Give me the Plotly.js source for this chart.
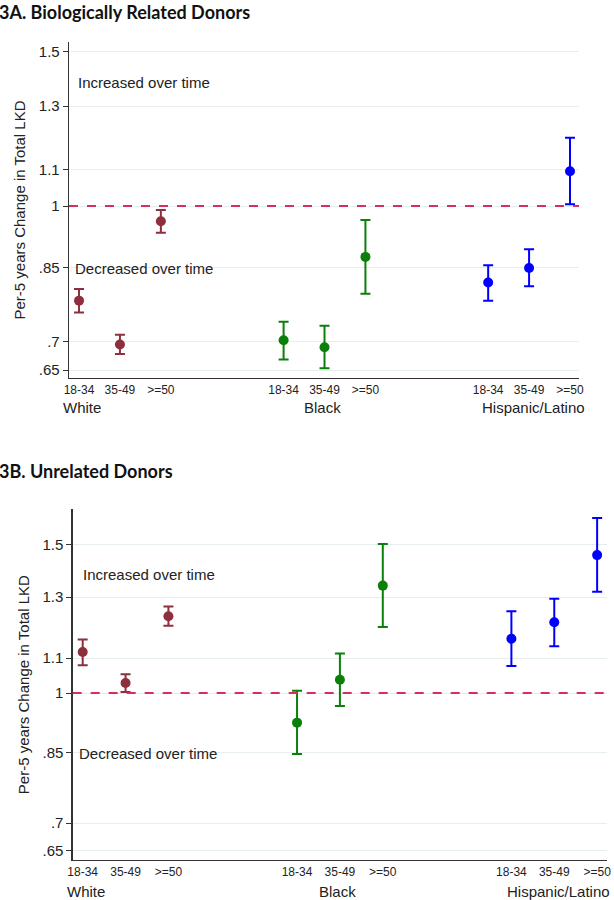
<!DOCTYPE html>
<html>
<head>
<meta charset="utf-8">
<script src="https://cdn.plot.ly/plotly-3.0.1.min.js"></script>
<style>html,body{margin:0;padding:0;background:#fff;}#chart{width:614px;height:900px;}</style>
</head>
<body>
<div id="chart"></div>
<script>
// Age groups and positions
const ageLabels = ["18-34", "35-49", ">=50"];
const groups = ["White", "Black", "Hispanic/Latino"];
const groupColors = ["#8e2f3d", "#0a800a", "#0000ff"];
const groupOffsets = [0, 5, 10];

// Panel A: Biologically related donors (estimate, lower CI, upper CI)
const relatedEst = {
  "White": [0.780, 0.695, 0.961],
  "Black": [0.703, 0.690, 0.875],
  "Hispanic/Latino": [0.818, 0.850, 1.096]
};
const relatedLo = {
  "White": [0.756, 0.678, 0.932],
  "Black": [0.668, 0.653, 0.794],
  "Hispanic/Latino": [0.780, 0.810, 1.005]
};
const relatedHi = {
  "White": [0.804, 0.713, 0.990],
  "Black": [0.738, 0.730, 0.964],
  "Hispanic/Latino": [0.856, 0.893, 1.197]
};

// Panel B: Unrelated donors
const unrelatedEst = {
  "White": [1.119, 1.028, 1.234],
  "Black": [0.922, 1.037, 1.342],
  "Hispanic/Latino": [1.160, 1.214, 1.459]
};
const unrelatedLo = {
  "White": [1.079, 1.003, 1.202],
  "Black": [0.846, 0.965, 1.198],
  "Hispanic/Latino": [1.077, 1.137, 1.320]
};
const unrelatedHi = {
  "White": [1.158, 1.053, 1.267],
  "Black": [1.006, 1.114, 1.504],
  "Hispanic/Latino": [1.251, 1.295, 1.615]
};

const yTickVals = [0.65, 0.7, 0.85, 1, 1.1, 1.3, 1.5];
const yTickText = [".65", ".7", ".85", "1", "1.1", "1.3", "1.5"];

const FONT = "'Liberation Sans', Arial, sans-serif";
const TITLEFONT = "Lato, 'Open Sans', sans-serif";
const traces = [];

function addPanel(est, lo, hi, xa, ya) {
  groups.forEach((g, gi) => {
    const xs = ageLabels.map((a, i) => groupOffsets[gi] + i);
    traces.push({
      type: "scatter", mode: "markers",
      x: xs, y: est[g],
      xaxis: xa, yaxis: ya,
      marker: {color: groupColors[gi], size: 10},
      error_y: {
        type: "data", symmetric: false,
        array: est[g].map((v, i) => hi[g][i] - v),
        arrayminus: est[g].map((v, i) => v - lo[g][i]),
        color: groupColors[gi], thickness: 2, width: 5
      },
      showlegend: false, hoverinfo: "skip"
    });
  });
}
addPanel(relatedEst, relatedLo, relatedHi, "x", "y");
addPanel(unrelatedEst, unrelatedLo, unrelatedHi, "x2", "y2");

const xTickVals = [];
const xTickText = [];
groupOffsets.forEach(o => ageLabels.forEach((a, i) => { xTickVals.push(o + i); xTickText.push(a); }));

function yAxis(domain, range) {
  return {
    domain: domain, type: "log", range: range,
    tickvals: yTickVals, ticktext: yTickText,
    ticks: "outside", ticklen: 5, tickcolor: "#333", tickwidth: 1,
    showgrid: true, gridcolor: "#e6eef0", gridwidth: 1,
    showline: true, linecolor: "#333", linewidth: 1.3,
    zeroline: false,
    tickfont: {family: FONT, size: 15, color: "#222"},
    title: {text: "Per-5 years Change in Total LKD", font: {family: FONT, size: 15, color: "#222"}, standoff: 9},
    fixedrange: true
  };
}
function xAxis(domain, range, anchor) {
  return {
    domain: domain, range: range, anchor: anchor,
    tickvals: xTickVals, ticktext: xTickText,
    ticks: "", showgrid: false, zeroline: false,
    showline: true, linecolor: "#333", linewidth: 1.3,
    tickfont: {family: FONT, size: 12, color: "#222"},
    fixedrange: true
  };
}

const groupLabelX = [0.07, 5.94, 11.1];
const annotations = [];
function textAnn(text, x, y, xref, yref, size, xanchor, extra) {
  return Object.assign({text: text, x: x, y: y, xref: xref, yref: yref, showarrow: false,
    xanchor: xanchor || "center", yanchor: "middle",
    font: {family: FONT, size: size, color: "#222"}}, extra || {});
}
// Panel titles
annotations.push(textAnn("<b>3A. Biologically Related Donors</b>", 0, 1 - 12/900, "paper", "paper", 18, "left",
  {font: {family: TITLEFONT, size: 18, color: "#111"}, xshift: -3}));
annotations.push(textAnn("<b>3B. Unrelated Donors</b>", 0, 1 - 471/900, "paper", "paper", 18, "left",
  {font: {family: TITLEFONT, size: 18, color: "#111"}, xshift: -3}));
// Group labels
groups.forEach((g, gi) => {
  annotations.push(textAnn(g, groupLabelX[gi], 1 - 407/900, "x", "paper", 15));
  annotations.push(textAnn(g, groupLabelX[gi], 1 - 891.5/900, "x2", "paper", 15));
});
// Region labels
annotations.push(textAnn("Increased over time", -0.073, Math.log10(1.385), "x", "y", 15, "left"));
annotations.push(textAnn("Decreased over time", -0.147, Math.log10(0.849), "x", "y", 15, "left"));
annotations.push(textAnn("Increased over time", -0.047, Math.log10(1.385), "x2", "y2", 15, "left"));
annotations.push(textAnn("Decreased over time", -0.14, Math.log10(0.848), "x2", "y2", 15, "left"));

const shapes = [
  {type: "line", xref: "x domain", yref: "y", x0: 0, x1: 1, y0: 1, y1: 1,
   line: {color: "#d6305a", width: 2, dash: "dash"}, layer: "above"},
  {type: "line", xref: "x2 domain", yref: "y2", x0: 0, x1: 1, y0: 1, y1: 1,
   line: {color: "#d6305a", width: 2, dash: "dash"}, layer: "above"}
];

const layout = {
  width: 614, height: 900,
  margin: {l: 0, r: 0, t: 0, b: 0},
  paper_bgcolor: "#fff", plot_bgcolor: "#fff",
  showlegend: false,
  xaxis: xAxis([69/614, 579/614], [-0.245, 12.22], "y"),
  yaxis: yAxis([1 - 378/900, 1 - 42/900], [Math.log10(0.6365), Math.log10(1.539)]),
  xaxis2: xAxis([72.7/614, 607/614], [-0.233, 12.23], "y2"),
  yaxis2: yAxis([1 - 860/900, 1 - 509.3/900], [Math.log10(0.6329), Math.log10(1.654)]),
  annotations: annotations,
  shapes: shapes
};
layout.yaxis.anchor = "x";
layout.yaxis2.anchor = "x2";

Plotly.newPlot("chart", traces, layout, {displayModeBar: false, staticPlot: true});
</script>
</body>
</html>
